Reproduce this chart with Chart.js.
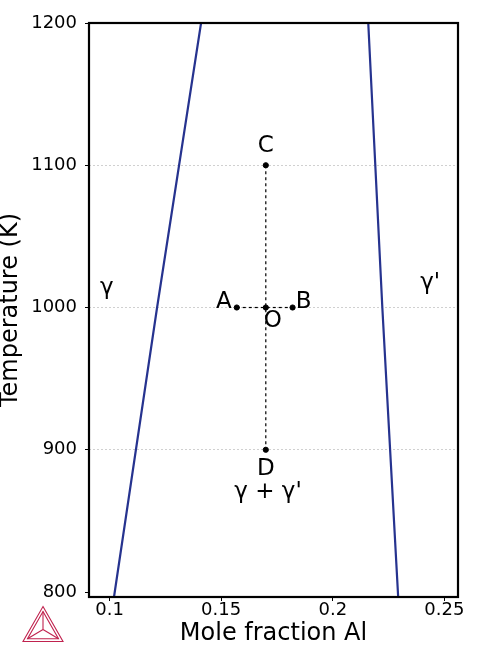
<!DOCTYPE html>
<html>
<head>
<meta charset="utf-8">
<script src="https://cdn.jsdelivr.net/npm/chart.js@4"></script>
<style>
  body { margin: 0; background: #fff; }
  #wrap { position: relative; width: 479px; height: 652px; }
  #logo { position: absolute; left: 21px; top: 605px; }
</style>
</head>
<body>
<div id="wrap">
  <canvas id="myChart" width="479" height="652"></canvas>
  <svg id="logo" width="44" height="38" viewBox="0 0 44 38">
    <g fill="none" stroke="#c0224e" stroke-width="1.1">
      <polygon points="22,1.5 42,36.5 2,36.5"/>
      <polygon points="22,6.5 37.5,33.8 6.5,33.8"/>
      <line x1="22" y1="6.5" x2="22" y2="24.5"/>
      <line x1="22" y1="24.5" x2="6.5" y2="33.8"/>
      <line x1="22" y1="24.5" x2="37.5" y2="33.8"/>
    </g>
  </svg>
</div>
<script>
// phase boundaries
const gammaX = [0.1020, 0.1213, 0.1410];
const gammaT = [796.5, 1000, 1200];
const gammaPrimeX = [0.2159, 0.2222, 0.2293];
const gammaPrimeT = [1200, 1000, 796.5];

// marked points
const pointNames = ['A', 'B', 'O', 'C', 'D'];
const pointX = [0.157, 0.182, 0.17, 0.17, 0.17];
const pointT = [1000, 1000, 1000, 1100, 900];

// phase region labels
const regionNames = ['γ', "γ'", "γ + γ'"];
const regionX = [0.0988, 0.2436, 0.1710];
const regionT = [1014, 1017, 870];

const xTicks = [0.1, 0.15, 0.2, 0.25];
const yTicks = [800, 900, 1000, 1100, 1200];

const FONT = "'DejaVu Sans', sans-serif";

function zip(xs, ys) {
    return xs.map((x, i) => ({ x: x, y: ys[i] }));
}
function pt(name) {
    const i = pointNames.indexOf(name);
    return { x: pointX[i], y: pointT[i] };
}

// offsets of the point letters from their dots, in pixels
const letterOffsets = { A: [-13, -5], B: [11, -5], O: [7, 14], C: [0, -19], D: [0, 19] };

const framePlugin = {
    id: 'frame',
    afterDatasetsDraw(chart) {
        const { ctx, chartArea: a, scales } = chart;
        ctx.save();
        ctx.strokeStyle = '#000';
        ctx.lineWidth = 2.2;
        ctx.strokeRect(a.left, a.top, a.right - a.left, a.bottom - a.top);

        ctx.fillStyle = '#000';
        ctx.font = '23px ' + FONT;
        ctx.textAlign = 'center';
        ctx.textBaseline = 'middle';
        pointNames.forEach((name, i) => {
            const off = letterOffsets[name];
            const px = scales.x.getPixelForValue(pointX[i]) + off[0];
            const py = scales.y.getPixelForValue(pointT[i]) + off[1];
            ctx.fillText(name, px, py);
        });
        regionNames.forEach((name, i) => {
            ctx.fillText(name, scales.x.getPixelForValue(regionX[i]), scales.y.getPixelForValue(regionT[i]));
        });
        ctx.restore();
    }
};

const ctx = document.getElementById('myChart').getContext('2d');
const myChart = new Chart(ctx, {
    type: 'scatter',
    data: {
        datasets: [{
            label: 'points',
            data: zip(pointX, pointT),
            backgroundColor: '#000',
            borderColor: '#000',
            pointRadius: 2.6,
            showLine: false
        }, {
            label: 'CD',
            data: [pt('C'), pt('D')],
            showLine: true,
            borderColor: '#000',
            borderWidth: 1.2,
            borderDash: [3, 3],
            pointRadius: 0
        }, {
            label: 'AB',
            data: [pt('A'), pt('B')],
            showLine: true,
            borderColor: '#000',
            borderWidth: 1.2,
            borderDash: [3, 3],
            pointRadius: 0
        }, {
            label: 'gamma',
            data: zip(gammaX, gammaT),
            showLine: true,
            borderColor: '#26338f',
            borderWidth: 2.2,
            pointRadius: 0
        }, {
            label: 'gamma prime',
            data: zip(gammaPrimeX, gammaPrimeT),
            showLine: true,
            borderColor: '#26338f',
            borderWidth: 2.2,
            pointRadius: 0
        }]
    },
    options: {
        responsive: false,
        animation: false,
        events: [],
        layout: { padding: { top: 23, right: 21, left: 0, bottom: 0 } },
        plugins: {
            legend: { display: false },
            tooltip: { enabled: false }
        },
        scales: {
            x: {
                type: 'linear',
                min: 0.0908,
                max: 0.2561,
                afterFit: (scale) => { scale.height = 55; },
                afterBuildTicks: (scale) => { scale.ticks = xTicks.map(v => ({ value: v })); },
                ticks: {
                    color: '#000',
                    font: { family: FONT, size: 18, lineHeight: 1 },
                    padding: 0,
                    maxRotation: 0,
                    autoSkip: false,
                    callback: (v) => String(v)
                },
                grid: {
                    drawOnChartArea: false,
                    drawTicks: true,
                    tickLength: 4,
                    tickColor: '#000',
                    tickWidth: 1
                },
                border: { display: false },
                title: {
                    display: true,
                    text: 'Mole fraction Al',
                    color: '#000',
                    font: { family: FONT, size: 24, lineHeight: 1.2 },
                    padding: { top: 0, bottom: 4 }
                }
            },
            y: {
                type: 'linear',
                min: 796.5,
                max: 1200,
                afterFit: (scale) => { scale.width = 89; },
                afterBuildTicks: (scale) => { scale.ticks = yTicks.map(v => ({ value: v })); },
                ticks: {
                    color: '#000',
                    font: { family: FONT, size: 18 },
                    padding: 8,
                    autoSkip: false,
                    callback: (v) => String(v)
                },
                grid: {
                    color: (c) => (c.tick && (c.tick.value === 800 || c.tick.value === 1200)) ? 'rgba(0,0,0,0)' : '#c4c4c4',
                    lineWidth: 0.8,
                    drawTicks: true,
                    tickLength: 4,
                    tickColor: '#000',
                    tickWidth: 1
                },
                border: { display: false, dash: [2, 2] },
                title: {
                    display: true,
                    text: 'Temperature (K)',
                    color: '#000',
                    font: { family: FONT, size: 24, lineHeight: 0.9 },
                    padding: { top: 0, bottom: 0 }
                }
            }
        }
    },
    plugins: [framePlugin]
});
</script>
</body>
</html>
